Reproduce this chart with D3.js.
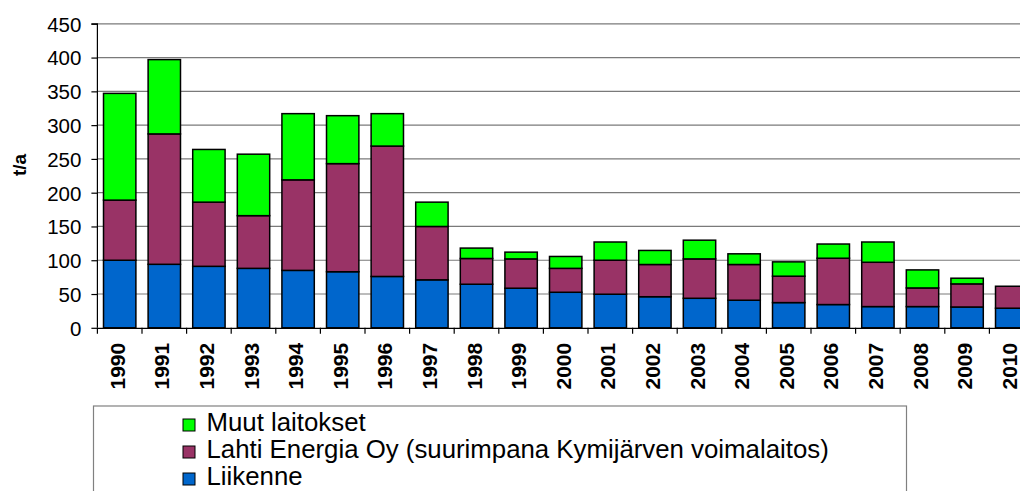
<!DOCTYPE html>
<html>
<head>
<meta charset="utf-8">
<script src="https://cdn.jsdelivr.net/npm/d3@7"></script>
<style>
  html, body { margin: 0; padding: 0; background: #fff; overflow: hidden; }
  svg { display: block; }
  text { font-family: "Liberation Sans", Arial, sans-serif; fill: #000; }
</style>
</head>
<body>
<svg id="chart" width="1020" height="491"></svg>
<script>
const years = ["1990","1991","1992","1993","1994","1995","1996","1997","1998","1999","2000","2001","2002","2003","2004","2005","2006","2007","2008","2009","2010"];
const liikenne = [100,94,91,88,85,83,76,71,64.5,58.6,52.6,49.7,46,43.7,40.8,37.3,34.4,31.4,31.4,30.8,29];
const lahti = [89,193,95,78,134,160,193,79,38.1,43.4,35.4,50.3,47.7,58.3,52.9,39.1,68.6,65.6,27.6,34.2,32.5];
const muut = [158,110,78,91,98,71,48,36,15.4,10,17.6,27,20.8,27.7,15.8,21.2,21,30,26.7,8.4,0];
const yTicks = [0,50,100,150,200,250,300,350,400,450];
const seriesNames = ["Liikenne","Lahti Energia Oy (suurimpana Kymijärven voimalaitos)","Muut laitokset"];
const yTitle = "t/a";

const colors = ["#0066CC", "#993366", "#00FF00"];

const svg = d3.select("#chart");
const mLeft = 97.4, mRight = 1034, mTop = 23.8, mBottom = 327.8;

const x = d3.scaleBand().domain(years).range([mLeft, mRight]).paddingInner(0.274).paddingOuter(0.137);
const y = d3.scaleLinear().domain([0, 450]).range([mBottom, mTop]);

// gridlines
svg.append("g").selectAll("line").data(yTicks.filter(d => d > 0)).join("line")
  .attr("x1", mLeft).attr("x2", mRight)
  .attr("y1", d => y(d)).attr("y2", d => y(d))
  .attr("stroke", "#7a7a7a").attr("stroke-width", 1.2);

// stacked data
const table = years.map((yr, i) => ({year: yr, s0: liikenne[i], s1: lahti[i], s2: muut[i]}));
const stack = d3.stack().keys(["s0","s1","s2"]);
const stacked = stack(table);

svg.append("g").selectAll("g").data(stacked).join("g")
  .attr("fill", (d, i) => colors[i])
  .selectAll("rect").data(d => d.filter(p => p[1] - p[0] > 0)).join("rect")
  .attr("x", d => x(d.data.year))
  .attr("width", x.bandwidth())
  .attr("y", d => y(d[1]))
  .attr("height", d => y(d[0]) - y(d[1]))
  .attr("stroke", "#000").attr("stroke-width", 1.5);

// y axis
const yAxis = d3.axisLeft(y).tickValues(yTicks).tickSize(6).tickPadding(10).tickFormat(d3.format("d"));
const ya = svg.append("g").attr("transform", `translate(${mLeft},0)`).call(yAxis);
ya.select(".domain").attr("stroke", "#000").attr("stroke-width", 1.2).attr("d", `M-6,${y(450)}H0V${mBottom}`);
ya.selectAll(".tick line").attr("stroke", "#000").attr("stroke-width", 1.2);
ya.selectAll(".tick text").attr("font-size", "20.5px").attr("font-family", "Liberation Sans, Arial, sans-serif").attr("dy", "0.36em");

// x axis
const xAxis = d3.axisBottom(x).tickSize(0).tickFormat(d => d);
const xa = svg.append("g").attr("transform", `translate(0,${mBottom})`).call(xAxis);
xa.select(".domain").attr("stroke", "#000").attr("stroke-width", 1.2);
xa.selectAll(".tick text")
  .attr("font-size", "21px").attr("font-weight", "bold")
  .attr("font-family", "Liberation Sans, Arial, sans-serif")
  .attr("transform", "rotate(-90)")
  .attr("text-anchor", "end")
  .attr("x", -15).attr("y", -2.5).attr("dy", "0.36em");
// boundary ticks
const bounds = years.map(yr => x(yr) - x.step() * x.paddingInner() / 2);
svg.append("g").selectAll("line").data(bounds).join("line")
  .attr("x1", d => d).attr("x2", d => d)
  .attr("y1", mBottom).attr("y2", mBottom + 6)
  .attr("stroke", "#000").attr("stroke-width", 1.2);

// y title
svg.append("text").attr("transform", `translate(26,165) rotate(-90)`)
  .attr("text-anchor", "middle").attr("font-size", "19px").attr("font-weight", "bold").text(yTitle);

// legend
const lg = svg.append("g");
lg.append("rect").attr("x", 93.5).attr("y", 406).attr("width", 813).attr("height", 100)
  .attr("fill", "#fff").attr("stroke", "#808080").attr("stroke-width", 1.2);
const legendOrder = [2, 1, 0];
legendOrder.forEach((si, row) => {
  const by = 431 + row * 27;
  lg.append("rect").attr("x", 183).attr("y", by - 12).attr("width", 12).attr("height", 12)
    .attr("fill", colors[si]).attr("stroke", "#000").attr("stroke-width", 1);
  lg.append("text").attr("x", 206.5).attr("y", by).attr("font-size", "25.8px").text(seriesNames[si]);
});
</script>
</body>
</html>
